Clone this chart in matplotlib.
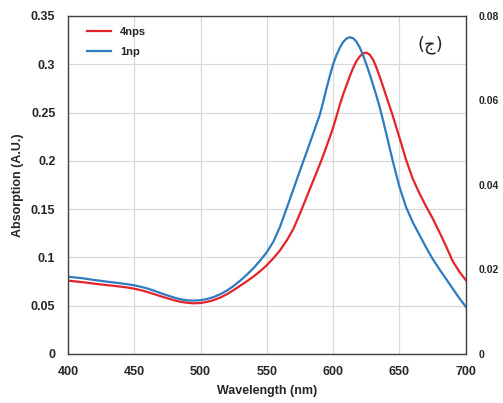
import matplotlib.pyplot as plt
import numpy as np

plt.rcParams['font.family'] = ['Liberation Sans', 'DejaVu Sans']

# wavelength grid (nm), finer around the peaks
wl = np.array([400, 405, 410, 415, 420, 425, 430, 435, 440, 445,
               450, 455, 460, 465, 470, 475, 480, 485, 490, 495,
               500, 505, 510, 515, 520, 525, 530, 535, 540, 545,
               550, 555, 560, 565, 570, 575, 580, 585, 590, 592.5,
               595, 597.5, 600, 602.5, 605, 607.5, 610, 612.5, 615, 617.5,
               620, 622.5, 625, 627.5, 630, 632.5, 635, 637.5, 640, 645,
               650, 655, 660, 665, 670, 675, 680, 685, 690, 695, 700])

# 4nps spectrum
a_4nps = np.array([0.0760, 0.0752, 0.0745, 0.0737, 0.0728, 0.0720, 0.0712, 0.0705, 0.0697, 0.0688,
                   0.0676, 0.0661, 0.0642, 0.0620, 0.0598, 0.0577, 0.0557, 0.0540, 0.0530, 0.0525,
                   0.0528, 0.0540, 0.0558, 0.0585, 0.0620, 0.0662, 0.0708, 0.0754, 0.0803, 0.0858,
                   0.0920, 0.0992, 0.1075, 0.1175, 0.1295, 0.1455, 0.1625, 0.1795, 0.1965, 0.2055,
                   0.2150, 0.2245, 0.2345, 0.2460, 0.2580, 0.2685, 0.2780, 0.2875, 0.2960, 0.3030,
                   0.3080, 0.3112, 0.3120, 0.3100, 0.3050, 0.2970, 0.2875, 0.2775, 0.2670, 0.2465,
                   0.2240, 0.2010, 0.1815, 0.1665, 0.1530, 0.1405, 0.1265, 0.1120, 0.0965, 0.0855,
                   0.0765])

# 1np spectrum
a_1np = np.array([0.0800, 0.0793, 0.0786, 0.0776, 0.0766, 0.0757, 0.0748, 0.0740, 0.0731, 0.0722,
                  0.0711, 0.0696, 0.0678, 0.0655, 0.0630, 0.0607, 0.0585, 0.0566, 0.0555, 0.0553,
                  0.0557, 0.0570, 0.0590, 0.0620, 0.0657, 0.0705, 0.0760, 0.0822, 0.0890, 0.0968,
                  0.1055, 0.1165, 0.1320, 0.1510, 0.1705, 0.1900, 0.2090, 0.2285, 0.2480, 0.2610,
                  0.2750, 0.2880, 0.3000, 0.3095, 0.3170, 0.3230, 0.3265, 0.3280, 0.3270, 0.3235,
                  0.3175, 0.3095, 0.3000, 0.2900, 0.2790, 0.2680, 0.2560, 0.2425, 0.2285, 0.1995,
                  0.1730, 0.1520, 0.1365, 0.1235, 0.1105, 0.0985, 0.0880, 0.0780, 0.0680, 0.0580,
                  0.0490])

left_ticks = [0, 0.05, 0.1, 0.15, 0.2, 0.25, 0.3, 0.35]
left_labels = ['0', '0.05', '0.1', '0.15', '0.2', '0.25', '0.3', '0.35']
right_ticks = [0, 0.02, 0.04, 0.06, 0.08]
right_labels = ['0', '0.02', '0.04', '0.06', '0.08']
x_ticks = [400, 450, 500, 550, 600, 650, 700]

txt = '#262626'

fig = plt.figure(figsize=(5.03, 4.03), dpi=100)
ax = fig.add_axes([0.135, 0.1216, 0.791, 0.8388])

ax.plot(wl, a_4nps, color='#e3242b', lw=1.6, label='4nps')
ax.plot(wl, a_1np, color='#2e7bc0', lw=1.6, label='1np')

ax.set_xlim(400, 700)
ax.set_ylim(0, 0.35)
ax.set_xticks(x_ticks)
ax.set_yticks(left_ticks)
ax.set_yticklabels(left_labels)
ax.grid(True, color='#d9d9d9', lw=0.9)
ax.set_axisbelow(True)
ax.tick_params(length=0, pad=9, labelsize=9, labelcolor=txt)
for lab in ax.get_xticklabels() + ax.get_yticklabels():
    lab.set_fontweight('bold')
for s in ax.spines.values():
    s.set_color('#404040')
    s.set_linewidth(1.0)

ax.set_xlabel('Wavelength (nm)', fontsize=9, fontweight='bold', color=txt, labelpad=5)
ax.set_ylabel('Absorption (A.U.)', fontsize=9, fontweight='bold', color=txt, labelpad=5)

ax2 = ax.twinx()
ax2.set_ylim(0, 0.08)
ax2.set_yticks(right_ticks)
ax2.set_yticklabels(right_labels)
ax2.tick_params(length=0, pad=9, labelsize=7.5, labelcolor=txt)
for lab in ax2.get_yticklabels():
    lab.set_fontweight('bold')
for s in ax2.spines.values():
    s.set_visible(False)

leg = ax.legend(loc='upper left', frameon=False, fontsize=8, handlelength=2.2,
                borderaxespad=0.6, labelspacing=0.9, bbox_to_anchor=(0.02, 1.0))
for t in leg.get_texts():
    t.set_fontweight('bold')
    t.set_color(txt)

ax.text(673, 0.32, '(ج)', fontsize=13, ha='center', va='center', color='#262626',
        family=['DejaVu Sans'])

fig.savefig('out.png', dpi=100)
